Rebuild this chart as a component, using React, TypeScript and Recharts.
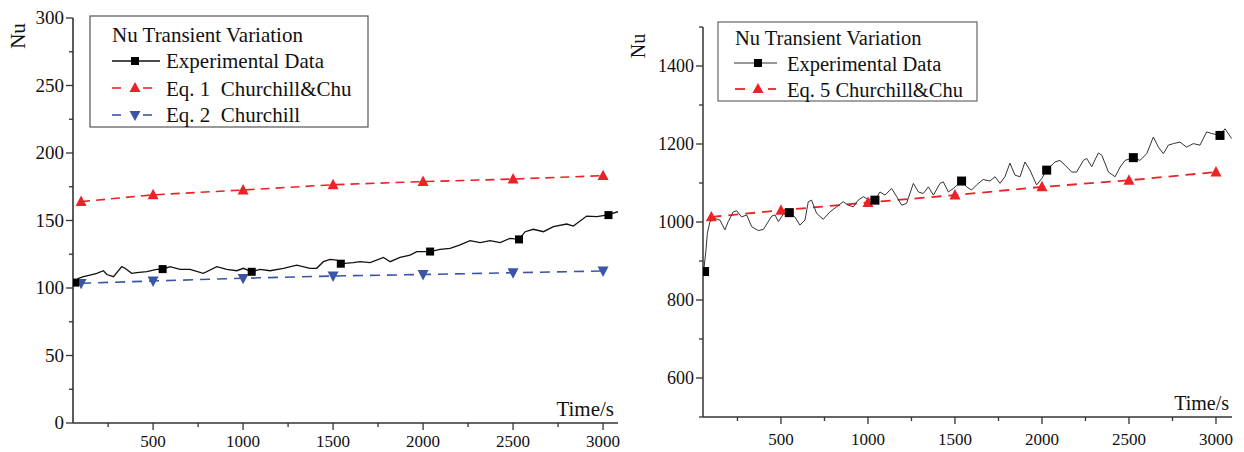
import React from 'react';
import { ComposedChart, Line, XAxis, YAxis } from 'recharts';

// ---- left panel: Eq. 1 / Eq. 2 ----
const leftExp: [number, number][] = [
  [55, 104], [67, 104], [83, 107], [113, 108.4], [150, 109.6], [187, 110.9], [224, 112.8],
  [243, 110], [280, 108.4], [326, 115.8], [344, 114.6], [381, 110.9], [409, 111.4],
  [465, 112.1], [520, 113.8], [553, 113.9], [594, 115.8], [650, 113.8], [705, 113.8],
  [779, 110.9], [854, 115.8], [909, 113.8], [965, 112.8], [1002, 114.6], [1048, 112],
  [1094, 113.8], [1150, 112.8], [1224, 114.6], [1298, 117], [1372, 114.6], [1409, 114.6],
  [1446, 119.5], [1483, 121.2], [1520, 120.7], [1548, 118], [1613, 118.8], [1650, 119.5],
  [1706, 118.8], [1780, 122.7], [1817, 119.5], [1872, 122.7], [1928, 124.4], [1965, 126.9],
  [2039, 126.9], [2094, 128.6], [2150, 129.4], [2206, 131.9], [2261, 135.1], [2317, 133.6],
  [2372, 135.1], [2428, 133.6], [2483, 136.8], [2533, 136], [2567, 141.7], [2613, 143.5],
  [2669, 141.7], [2724, 145.4], [2798, 147.4], [2835, 145.9], [2909, 153.3], [2965, 152.8],
  [3020, 154], [3083, 156.5],
];
const leftExpMarks: [number, number][] = [
  [67, 104], [553, 114], [1048, 112], [1543, 118], [2039, 127], [2533, 136], [3030, 154],
];
const eqTime = [100, 500, 1000, 1500, 2000, 2500, 3000];
const eq1Nu = [164, 169, 172.6, 176.5, 178.8, 180.7, 183.2];
const eq2Nu = [103.5, 105.2, 107.2, 108.9, 110, 111.3, 112.6];

// ---- right panel: Eq. 5 ----
const rightExp: [number, number][] = [
  [55, 870], [69, 928], [77, 971], [92, 1001], [121, 1009], [149, 1005], [178, 980],
  [197, 1001], [226, 1026], [245, 1029], [274, 1013], [303, 1018], [332, 988], [370, 978],
  [399, 981], [447, 1015], [466, 1018], [485, 1001], [523, 1026], [548, 1024], [580, 1013],
  [609, 992], [638, 1005], [657, 1052], [676, 1056], [705, 1022], [743, 1007], [782, 1026],
  [820, 1039], [858, 1052], [887, 1043], [916, 1039], [944, 1056], [973, 1065], [992, 1060],
  [1040, 1056], [1069, 1077], [1098, 1069], [1136, 1086], [1165, 1065], [1194, 1043],
  [1222, 1048], [1261, 1099], [1290, 1077], [1318, 1073], [1347, 1090], [1376, 1069],
  [1414, 1099], [1433, 1103], [1462, 1077], [1491, 1086], [1538, 1105], [1567, 1090],
  [1595, 1082], [1624, 1095], [1662, 1109], [1701, 1105], [1730, 1116], [1759, 1099],
  [1787, 1116], [1816, 1151], [1845, 1120], [1874, 1116], [1902, 1154], [1931, 1133],
  [1969, 1095], [1998, 1111], [2027, 1133], [2075, 1154], [2103, 1158], [2132, 1146],
  [2171, 1128], [2199, 1128], [2238, 1158], [2257, 1163], [2286, 1142], [2324, 1177],
  [2344, 1171], [2382, 1128], [2420, 1116], [2449, 1141], [2478, 1158], [2525, 1165],
  [2563, 1158], [2602, 1175], [2640, 1218], [2669, 1192], [2698, 1175], [2726, 1197],
  [2755, 1201], [2793, 1205], [2831, 1192], [2870, 1201], [2908, 1197], [2946, 1231],
  [2975, 1227], [3023, 1222], [3052, 1239], [3090, 1214],
];
const rightExpMarks: [number, number][] = [
  [61, 873], [548, 1024], [1040, 1056], [1538, 1105], [2027, 1133], [2525, 1165], [3023, 1222],
];
const eq5Nu = [1013, 1030, 1050, 1069, 1090, 1107, 1128];

const xTicks = [250, 500, 750, 1000, 1250, 1500, 1750, 2000, 2250, 2500, 2750, 3000];
const leftYTicks = [0, 25, 50, 75, 100, 125, 150, 175, 200, 225, 250, 275, 300];
const rightYTicks = [500, 600, 700, 800, 900, 1000, 1100, 1200, 1300, 1400, 1500];

const RED = '#ec2227';
const BLUE = '#3a55a6';
const AXIS = '#333';
const INK = '#111';
const FONT = '"Liberation Serif", "Times New Roman", serif';

const pairs = (a: [number, number][]) => a.map(([t, v]) => ({ t, v }));
const zipT = (vals: number[]) => vals.map((v, i) => ({ t: eqTime[i], v }));

const square = (size: number, fill: string) => (p: any) => (
  <rect key={`s${p.index}`} x={p.cx - size / 2} y={p.cy - size / 2} width={size} height={size} fill={fill} />
);
const triUp = (w: number, fill: string) => (p: any) => (
  <path key={`u${p.index}`} d={`M${p.cx},${p.cy - w * 0.55} L${p.cx + w / 2},${p.cy + w * 0.4} L${p.cx - w / 2},${p.cy + w * 0.4} Z`} fill={fill} />
);
const triDown = (w: number, fill: string) => (p: any) => (
  <path key={`d${p.index}`} d={`M${p.cx},${p.cy + w * 0.55} L${p.cx + w / 2},${p.cy - w * 0.4} L${p.cx - w / 2},${p.cy - w * 0.4} Z`} fill={fill} />
);

const makeXTick = (fs: number, off: number) => (p: any) => {
  const v = p.payload.value;
  const major = v % 500 === 0;
  return (
    <g>
      <line x1={p.x} y1={p.y} x2={p.x} y2={p.y + (major ? 7 : 4)} stroke={AXIS} strokeWidth={1.3} />
      {major && (
        <text x={p.x} y={p.y + off} textAnchor="middle" fontSize={fs} fontFamily={FONT} fill={INK}>{v}</text>
      )}
    </g>
  );
};
const makeYTick = (fs: number, isMajor: (v: number) => boolean) => (p: any) => {
  const v = p.payload.value;
  const major = isMajor(v);
  return (
    <g>
      <line x1={p.x} y1={p.y} x2={p.x - (major ? 7 : 4)} y2={p.y} stroke={AXIS} strokeWidth={1.3} />
      {major && (
        <text x={p.x - 9} y={p.y + fs * 0.34} textAnchor="end" fontSize={fs} fontFamily={FONT} fill={INK}>{v}</text>
      )}
    </g>
  );
};

export default function App() {
  return (
    <div style={{ position: 'absolute', left: 0, top: 0, width: 1244, height: 452, background: '#fff', overflow: 'hidden' }}>
      <div style={{ position: 'absolute', left: 0, top: 0 }}>
        <ComposedChart width={630} height={452} margin={{ top: 18, right: 12, bottom: 0, left: 0 }}>
          <XAxis type="number" dataKey="t" domain={[55, 3083]} allowDataOverflow ticks={xTicks} interval={0}
            tickSize={0} tickMargin={0} tickLine={false} tick={makeXTick(17, 24)} height={29}
            axisLine={{ stroke: AXIS, strokeWidth: 1.6 }} />
          <YAxis type="number" domain={[0, 300]} allowDataOverflow ticks={leftYTicks} interval={0}
            tickSize={0} tickMargin={0} tickLine={false} tick={makeYTick(19, v => v % 50 === 0)} width={73}
            axisLine={{ stroke: AXIS, strokeWidth: 1.6 }} />
          <Line data={zipT(eq1Nu)} dataKey="v" stroke={RED} strokeWidth={1.6} strokeDasharray="9 6"
            dot={triUp(11, RED)} activeDot={false} isAnimationActive={false} />
          <Line data={zipT(eq2Nu)} dataKey="v" stroke={BLUE} strokeWidth={1.6} strokeDasharray="10 7"
            dot={triDown(11, BLUE)} activeDot={false} isAnimationActive={false} />
          <Line data={pairs(leftExp)} dataKey="v" stroke="#111" strokeWidth={1.3} dot={false}
            activeDot={false} isAnimationActive={false} />
          <Line data={pairs(leftExpMarks)} dataKey="v" stroke="none" dot={square(8, '#000')}
            activeDot={false} isAnimationActive={false} />
        </ComposedChart>
      </div>
      <div style={{ position: 'absolute', left: 630, top: 0 }}>
        <ComposedChart width={614} height={452} margin={{ top: 27, right: 12, bottom: 0, left: 0 }}>
          <XAxis type="number" dataKey="t" domain={[52, 3092]} allowDataOverflow ticks={xTicks} interval={0}
            tickSize={0} tickMargin={0} tickLine={false} tick={makeXTick(17, 28)} height={35}
            axisLine={{ stroke: AXIS, strokeWidth: 1.5 }} />
          <YAxis type="number" domain={[500, 1500]} allowDataOverflow ticks={rightYTicks} interval={0}
            tickSize={0} tickMargin={0} tickLine={false}
            tick={makeYTick(18, v => v % 200 === 0 && v >= 600 && v <= 1400)} width={73}
            axisLine={{ stroke: AXIS, strokeWidth: 1.5 }} />
          <Line data={zipT(eq5Nu)} dataKey="v" stroke={RED} strokeWidth={1.8} strokeDasharray="10 7"
            dot={triUp(11, RED)} activeDot={false} isAnimationActive={false} />
          <Line data={pairs(rightExp)} dataKey="v" stroke="#333" strokeWidth={1} dot={false}
            activeDot={false} isAnimationActive={false} />
          <Line data={pairs(rightExpMarks)} dataKey="v" stroke="none" dot={square(9, '#000')}
            activeDot={false} isAnimationActive={false} />
        </ComposedChart>
      </div>
      <svg width={1244} height={452} style={{ position: 'absolute', left: 0, top: 0, pointerEvents: 'none' }}
        fontFamily={FONT} fill={INK}>
        {/* axis titles */}
        <text transform="translate(25,36) rotate(-90)" textAnchor="middle" fontSize={21}>Nu</text>
        <text x={614} y={416} textAnchor="end" fontSize={21}>Time/s</text>
        <text transform="translate(645,46) rotate(-90)" textAnchor="middle" fontSize={20}>Nu</text>
        <text x={1229} y={410} textAnchor="end" fontSize={20}>Time/s</text>

        {/* left legend */}
        <rect x={90} y={16} width={278} height={111} fill="#fff" stroke="#555" strokeWidth={1.2} />
        <text x={112} y={42} fontSize={21}>Nu Transient Variation</text>
        <line x1={112} y1={61} x2={160} y2={61} stroke="#111" strokeWidth={1.3} />
        <rect x={131} y={57} width={8} height={8} fill="#000" />
        <text x={166} y={68} fontSize={21}>Experimental Data</text>
        <line x1={112} y1={88} x2={121} y2={88} stroke={RED} strokeWidth={1.6} />
        <line x1={143} y1={88} x2={152} y2={88} stroke={RED} strokeWidth={1.6} />
        <path d="M135,82 L140.5,92 L129.5,92 Z" fill={RED} />
        <text x={166} y={96} fontSize={21} style={{ whiteSpace: 'pre' }}>Eq. 1  Churchill&amp;Chu</text>
        <line x1={112} y1={115} x2={121} y2={115} stroke={BLUE} strokeWidth={1.6} />
        <line x1={143} y1={115} x2={152} y2={115} stroke={BLUE} strokeWidth={1.6} />
        <path d="M135,121 L140.5,111 L129.5,111 Z" fill={BLUE} />
        <text x={166} y={122} fontSize={21} style={{ whiteSpace: 'pre' }}>Eq. 2  Churchill</text>

        {/* right legend */}
        <rect x={718} y={22} width={259} height={79} fill="#fff" stroke="#666" strokeWidth={1.2} />
        <text x={735} y={45} fontSize={20.5}>Nu Transient Variation</text>
        <line x1={734} y1={63} x2={777} y2={63} stroke="#333" strokeWidth={1} />
        <rect x={754} y={59} width={8} height={8} fill="#000" />
        <text x={787} y={71} fontSize={20.5}>Experimental Data</text>
        <line x1={735} y1={89} x2={745} y2={89} stroke={RED} strokeWidth={1.8} />
        <line x1={768} y1={89} x2={776} y2={89} stroke={RED} strokeWidth={1.8} />
        <path d="M758,83 L763.5,93 L752.5,93 Z" fill={RED} />
        <text x={787} y={97} fontSize={20.5}>Eq. 5 Churchill&amp;Chu</text>
      </svg>
    </div>
  );
}
